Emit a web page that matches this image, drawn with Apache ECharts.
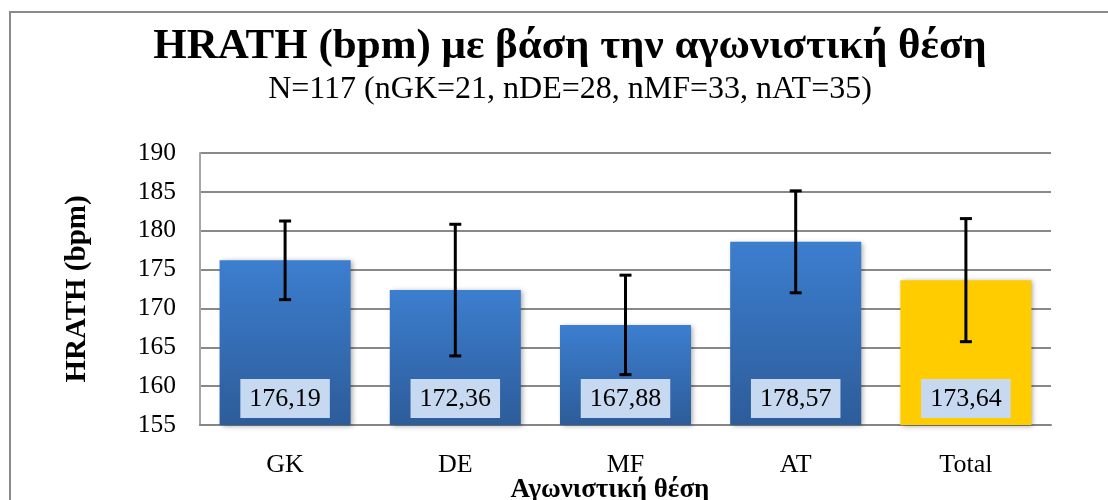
<!DOCTYPE html>
<html>
<head>
<meta charset="utf-8">
<script src="https://cdn.jsdelivr.net/npm/echarts@6/dist/echarts.min.js"></script>
<style>
html,body{margin:0;padding:0;background:#fff;}
#c{width:1108px;height:500px;}
</style>
</head>
<body>
<div id="c"></div>
<script>
const categories = ['GK', 'DE', 'MF', 'AT', 'Total'];
const means = [176.19, 172.36, 167.88, 178.57, 173.64];
const sds = [5.06, 8.47, 6.40, 6.56, 7.92];
const yTicks = [155, 160, 165, 170, 175, 180, 185, 190];
const titleText = 'HRATH (bpm) με βάση την αγωνιστική θέση';
const subtitleText = 'N=117 (nGK=21, nDE=28, nMF=33, nAT=35)';
const yName = 'HRATH (bpm)';
const xName = 'Αγωνιστική θέση';

const FONT = '"Liberation Serif", "DejaVu Serif", serif';
const blueGrad = new echarts.graphic.LinearGradient(0, 0, 0, 1, [
  {offset: 0, color: '#3c7ecf'},
  {offset: 1, color: '#2d5c99'}
]);

const barData = means.map((v, i) => ({
  value: v,
  itemStyle: { color: categories[i] === 'Total' ? '#ffcc00' : blueGrad }
}));

const errData = means.map((v, i) => [i, v - sds[i], v + sds[i]]);

const chart = echarts.init(document.getElementById('c'), null, {renderer: 'canvas'});
chart.setOption({
  animation: false,
  backgroundColor: '#fff',
  grid: { left: 200, right: 57, top: 153, bottom: 75, containLabel: false },
  graphic: [
    { type: 'rect', shape: { x: 10, y: 12, width: 1200, height: 600 },
      style: { fill: 'none', stroke: '#8a8a8a', lineWidth: 2 }, silent: true, z: -10 },
    { type: 'text', x: 570, y: 25, style: { text: titleText, font: 'bold 43px ' + FONT, fill: '#000', textAlign: 'center', textVerticalAlign: 'top' } },
    { type: 'text', x: 570, y: 74, style: { text: subtitleText, font: '32px ' + FONT, fill: '#000', textAlign: 'center', textVerticalAlign: 'top' } },
    { type: 'text', x: 610, y: 477, style: { text: xName, font: 'bold 27px ' + FONT, fill: '#000', textAlign: 'center', textVerticalAlign: 'top' } }
  ],
  xAxis: {
    type: 'category',
    data: categories,
    axisLine: { lineStyle: { color: '#868686', width: 2 } },
    axisTick: { show: false },
    axisLabel: { color: '#000', fontFamily: FONT, fontSize: 26, margin: 27 }
  },
  yAxis: {
    type: 'value',
    min: 155, max: 190, interval: 5,
    name: yName,
    nameLocation: 'middle',
    nameGap: 108,
    nameTextStyle: { color: '#000', fontFamily: FONT, fontSize: 29, fontWeight: 'bold' },
    axisLine: { show: true, lineStyle: { color: '#a6a6a6', width: 2 } },
    axisTick: { show: false },
    axisLabel: { color: '#000', fontFamily: FONT, fontSize: 25.5, margin: 24,
      formatter: v => yTicks.includes(v) ? String(v) : '' },
    splitLine: { lineStyle: { color: '#898989', width: 2 } }
  },
  series: [
    {
      type: 'bar',
      data: barData,
      barWidth: '77%',
      itemStyle: { shadowColor: 'rgba(0,0,0,0.35)', shadowBlur: 5, shadowOffsetX: 2, shadowOffsetY: 1 },
      label: {
        show: true,
        position: 'insideBottom',
        distance: 7,
        formatter: p => p.value.toFixed(2).replace('.', ','),
        color: '#000',
        fontFamily: FONT,
        fontSize: 26,
        backgroundColor: '#c6d9f0',
        padding: [7, 9, 6, 9]
      },
      z: 2
    },
    {
      type: 'custom',
      data: errData,
      z: 5,
      renderItem: function (params, api) {
        const x = api.value(0);
        const lo = api.coord([x, api.value(1)]);
        const hi = api.coord([x, api.value(2)]);
        const cap = 6;
        const st = { stroke: '#000', lineWidth: 3 };
        return {
          type: 'group',
          children: [
            { type: 'line', shape: { x1: hi[0], y1: hi[1], x2: lo[0], y2: lo[1] }, style: st },
            { type: 'line', shape: { x1: hi[0] - cap, y1: hi[1], x2: hi[0] + cap, y2: hi[1] }, style: st },
            { type: 'line', shape: { x1: lo[0] - cap, y1: lo[1], x2: lo[0] + cap, y2: lo[1] }, style: st }
          ]
        };
      }
    }
  ]
});
</script>
</body>
</html>
